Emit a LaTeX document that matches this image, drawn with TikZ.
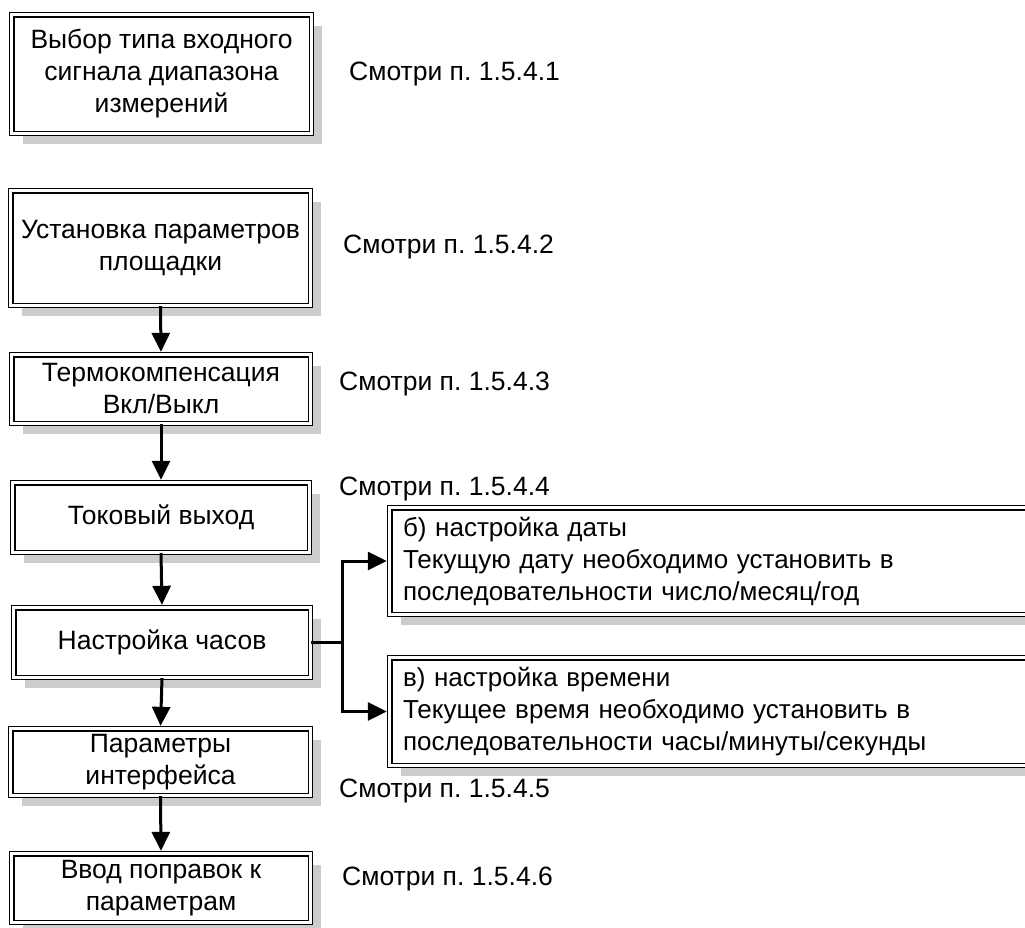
\documentclass[tikz,border=0pt]{standalone}
\usepackage{fontspec}
\setmainfont{Liberation Sans}
\usetikzlibrary{arrows.meta,shadows}
\frenchspacing
\begin{document}
\begin{tikzpicture}[x=1pt,y=-1pt,
  box/.style={draw, double, double distance=2.5pt, line width=1.6pt, fill=white,
    align=center, inner sep=0pt,
    general shadow={fill=black!20, shadow xshift=11pt, shadow yshift=-11pt},
    font=\fontsize{26.5}{32}\selectfont},
  rbox/.style={box, align=left, inner xsep=13pt, text width=616pt,
    minimum width=642.7pt, font=\fontsize{26}{32}\selectfont},
  lab/.style={anchor=base west, inner sep=0pt, font=\fontsize{26.5}{30}\selectfont},
  arr/.style={line width=3pt, -{Triangle[length=19pt,width=18pt]}, shorten >=2pt},
  conn/.style={line width=3pt}]
\useasboundingbox (0,0) rectangle (1025,927);
\node[box, minimum width=299.7pt, minimum height=118.7pt] (b1) at (161.5,74)
  {Выбор типа входного\\сигнала диапазона\\измерений};
\node[box, minimum width=299.7pt, minimum height=114.7pt] (b2) at (160.5,248)
  {Установка параметров\\площадки};
\node[box, minimum width=298.7pt, minimum height=68.7pt] (b3) at (161,389)
  {Термокомпенсация\\Вкл/Выкл};
\node[box, minimum width=296.7pt, minimum height=69.7pt] (b4) at (161,517.5)
  {Токовый выход};
\node[box, minimum width=296.7pt, minimum height=69.7pt] (b5) at (162,642.5)
  {Настройка часов};
\node[box, minimum width=299.7pt, minimum height=66.7pt] (b6) at (160.5,762)
  {Параметры\\интерфейса};
\node[box, minimum width=298.7pt, minimum height=68.7pt] (b7) at (161,888)
  {Ввод поправок к\\параметрам};
\node[rbox, minimum height=106.7pt] (bb) at (711,561)
  {б) настройка даты\\Текущую дату необходимо установить в\\последовательности число/месяц/год};
\node[rbox, minimum height=107.7pt] (bv) at (711,711.5)
  {в) настройка времени\\Текущее время необходимо установить в\\последовательности часы/минуты/секунды};
\node[lab] (l1) at (349,80) {Смотри п. 1.5.4.1};
\node[lab] (l2) at (343,253) {Смотри п. 1.5.4.2};
\node[lab] (l3) at (339,390) {Смотри п. 1.5.4.3};
\node[lab] (l4) at (339,495) {Смотри п. 1.5.4.4};
\node[lab] (l5) at (339,797) {Смотри п. 1.5.4.5};
\node[lab] (l6) at (342,885) {Смотри п. 1.5.4.6};
\draw[arr] (b2.south) -- (b3.north);
\draw[arr] (b3.south) -- (b4.north);
\draw[arr] (b4.south) -- (b5.north);
\draw[arr] (b5.south) -- (b6.north);
\draw[arr] (b6.south) -- (b7.north);
\coordinate (j) at (342,642.5);
\draw[conn] (b5.east) -- (j);
\draw[arr] (j) |- (bb.west);
\draw[arr] (j) |- (bv.west);
\end{tikzpicture}
\end{document}
